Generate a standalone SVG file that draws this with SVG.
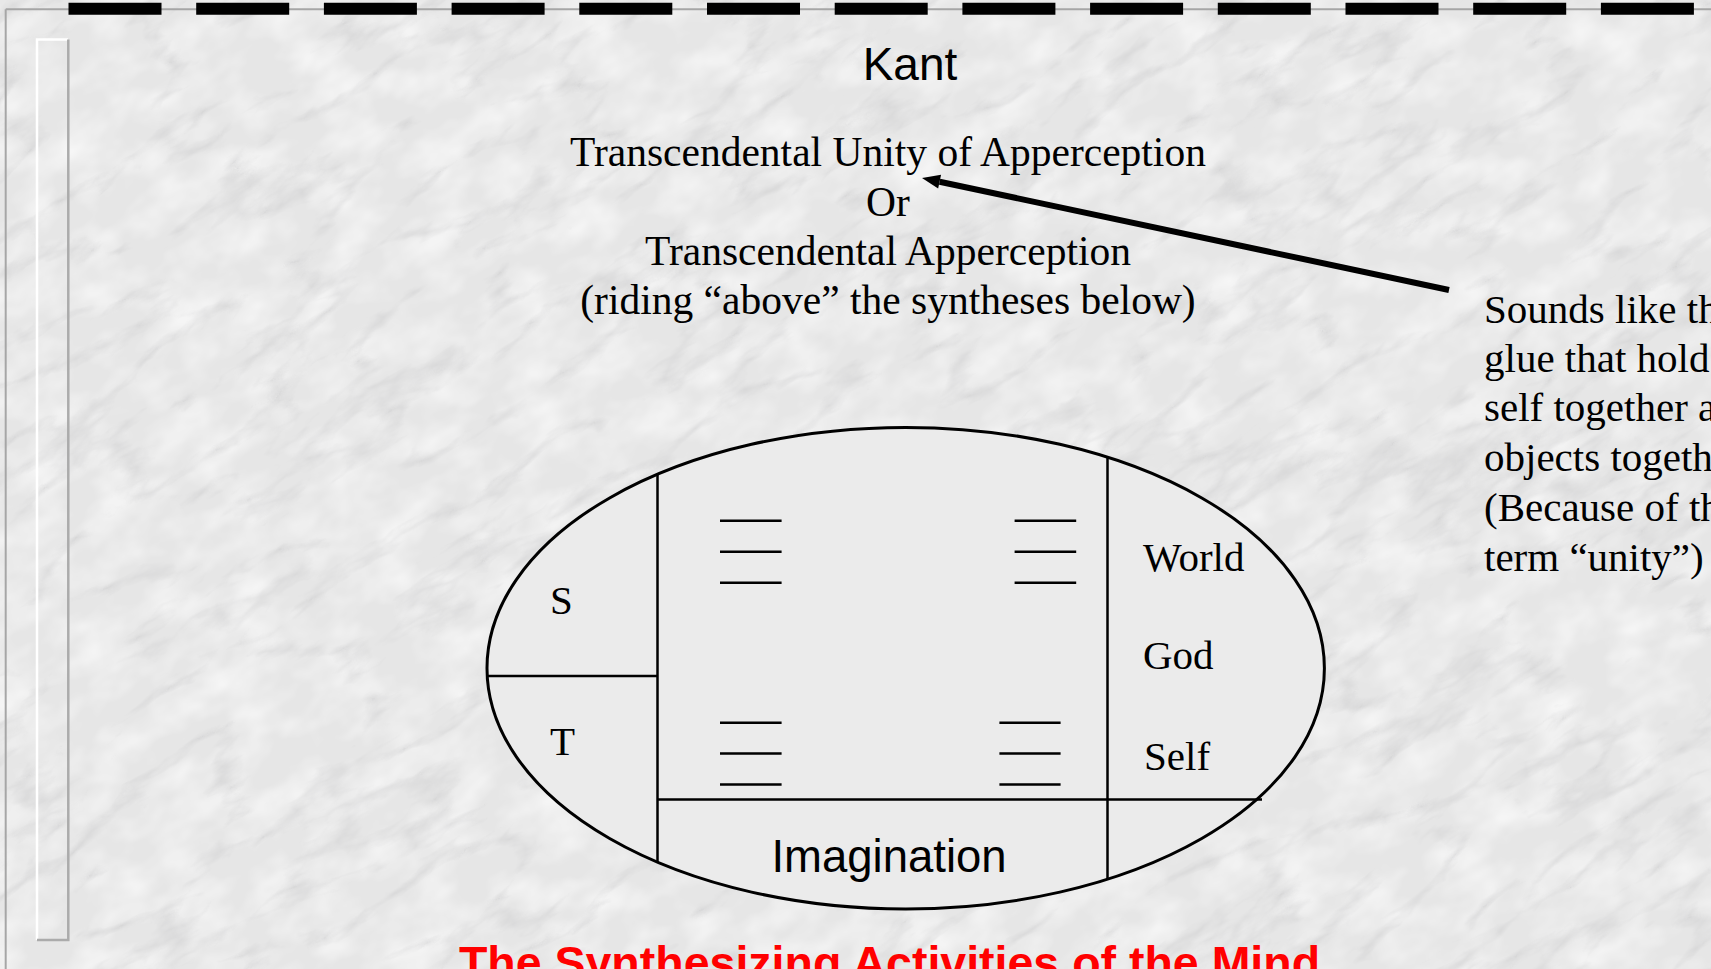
<svg xmlns="http://www.w3.org/2000/svg" width="1711" height="969" viewBox="0 0 1711 969">
<defs>
<style>
.serif{font-family:"Liberation Serif","Times New Roman",serif;font-size:41px;fill:#000}
.sans{font-family:"Liberation Sans",Arial,sans-serif;fill:#000}
.ln{stroke:#000;stroke-width:2.5;fill:none}
.dash{stroke:#000;stroke-width:2.5}
</style>
<filter id="marble" x="0" y="0" width="1" height="1" primitiveUnits="userSpaceOnUse">
<feTurbulence type="turbulence" baseFrequency="0.006 0.017" numOctaves="5" seed="7"/>
<feColorMatrix type="matrix" values="0 0 0 0 0.52  0 0 0 0 0.52  0 0 0 0 0.53  -1.6 0 0 0 0.36"/>
</filter>
<filter id="mottle" x="0" y="0" width="1" height="1" primitiveUnits="userSpaceOnUse">
<feTurbulence type="fractalNoise" baseFrequency="0.02 0.03" numOctaves="3" seed="3"/>
<feColorMatrix type="matrix" values="0 0 0 0 1  0 0 0 0 1  0 0 0 0 1  1.2 0 0 0 -0.45"/>
</filter>
<marker id="ah" markerUnits="userSpaceOnUse" markerWidth="20" markerHeight="16" refX="0" refY="0" orient="auto" overflow="visible">
<path d="M0,-7 L18,0 L0,7 z" fill="#000"/>
</marker>
</defs>
<rect width="1711" height="969" fill="#e6e6e6"/>
<g transform="rotate(-32 855 485)">
<rect x="-500" y="-700" width="2700" height="2400" fill="#fff" filter="url(#mottle)"/>
<rect x="-500" y="-700" width="2700" height="2400" fill="#fff" filter="url(#marble)"/>
</g>
<g id="frame">
<line x1="5.7" y1="9.3" x2="1711" y2="9.3" stroke="#a6a6a6" stroke-width="2"/>
<line x1="5.7" y1="9.3" x2="5.7" y2="969" stroke="#a6a6a6" stroke-width="2"/>
<line x1="68.5" y1="8.7" x2="1711" y2="8.7" stroke="#000" stroke-width="12" stroke-dasharray="93 34.7"/>
<path d="M37,940 V39.5 H68" stroke="#fff" stroke-width="2.5" fill="none"/>
<path d="M68.3,39.5 V940 H37" stroke="#ababab" stroke-width="2.5" fill="none"/>
</g>
<g id="title"><text class="sans" x="910" y="80" font-size="46" text-anchor="middle">Kant</text></g>
<g id="apperception" class="serif" text-anchor="middle" style="font-size:41.5px">
<text x="888" y="166">Transcendental Unity of Apperception</text>
<text x="888" y="216">Or</text>
<text x="888" y="265">Transcendental Apperception</text>
<text x="888" y="314">(riding “above” the syntheses below)</text>
</g>
<g id="note" class="serif">
<text x="1484" y="323">Sounds like th</text>
<text x="1484" y="372">glue that hold</text>
<text x="1484" y="421">self together a</text>
<text x="1484" y="471">objects togeth</text>
<text x="1484" y="521">(Because of th</text>
<text x="1484" y="571">term “unity”)</text>
</g>
<g id="connectors">
<line x1="1449" y1="290" x2="939.6" y2="181.7" stroke="#000" stroke-width="6" marker-end="url(#ah)"/>
</g>
<g id="mind">
<ellipse cx="905.7" cy="668.2" rx="418.7" ry="240.8" fill="#ebebeb" stroke="#000" stroke-width="3"/>
<line class="ln" x1="657.5" y1="474.3" x2="657.5" y2="862.1"/>
<line class="ln" x1="1107.5" y1="457.2" x2="1107.5" y2="879.2"/>
<line class="ln" x1="487" y1="676" x2="657.5" y2="676"/>
<line class="ln" x1="657.5" y1="799.5" x2="1262" y2="799.5"/>
<g id="marks">
<line class="dash" x1="720" y1="520.7" x2="781.6" y2="520.7"/>
<line class="dash" x1="720" y1="551.7" x2="781.6" y2="551.7"/>
<line class="dash" x1="720" y1="582.7" x2="781.6" y2="582.7"/>
<line class="dash" x1="1014.6" y1="520.7" x2="1076.2" y2="520.7"/>
<line class="dash" x1="1014.6" y1="551.7" x2="1076.2" y2="551.7"/>
<line class="dash" x1="1014.6" y1="582.7" x2="1076.2" y2="582.7"/>
<line class="dash" x1="720" y1="722.7" x2="781.6" y2="722.7"/>
<line class="dash" x1="720" y1="753.5" x2="781.6" y2="753.5"/>
<line class="dash" x1="720" y1="784.5" x2="781.6" y2="784.5"/>
<line class="dash" x1="999.4" y1="722.7" x2="1060.6" y2="722.7"/>
<line class="dash" x1="999.4" y1="753.5" x2="1060.6" y2="753.5"/>
<line class="dash" x1="999.4" y1="784.5" x2="1060.6" y2="784.5"/>
</g>
<text class="serif" x="550" y="614">S</text>
<text class="serif" x="550" y="755">T</text>
<text class="serif" x="1143" y="571">World</text>
<text class="serif" x="1143" y="669">God</text>
<text class="serif" x="1144" y="770">Self</text>
<text class="sans" x="889" y="872" font-size="45.5" text-anchor="middle">Imagination</text>
</g>
<g id="caption"><text class="sans" x="889.5" y="979" font-size="46.5" font-weight="bold" style="fill:#ff0000" text-anchor="middle">The Synthesizing Activities of the Mind</text></g>
</svg>
